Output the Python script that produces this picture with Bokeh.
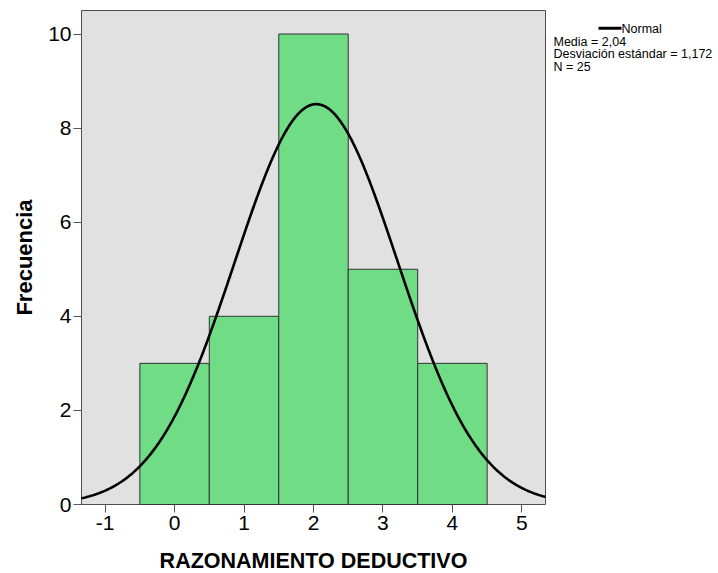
import math
from bokeh.plotting import figure
from bokeh.models import Range1d, FixedTicker, ColumnDataSource
from bokeh.core.properties import value
from bokeh.embed import file_html
from bokeh.resources import INLINE

# ---- data ----
categories = [0, 1, 2, 3, 4]
counts = [3, 4, 10, 5, 3]
x_ticks = [-1, 0, 1, 2, 3, 4, 5]
y_ticks = [0, 2, 4, 6, 8, 10]
mean_val = 2.04
sd_val = 1.172
n_val = 25
x_title = "RAZONAMIENTO DEDUCTIVO"
y_title = "Frecuencia"
legend_title = "Normal"
legend_lines = ["Media = 2,04", "Desviación estándar = 1,172", "N = 25"]

# plotted box (grey panel) in data units
x_lo, x_hi = -1.34, 5.34
y_lo, y_hi = 0, 10.5

# ---- layout (pixels) ----
W, H = 718, 573
BOX_L, BOX_R, BOX_T, BOX_B = 81, 545, 10, 504
FONT = "Liberation Sans"

ppx = (BOX_R - BOX_L) / (x_hi - x_lo)     # px per x unit
ppy = (BOX_B - BOX_T) / (y_hi - y_lo)     # px per y unit

def dx(px):
    return x_lo + (px - BOX_L) / ppx

def dy(py):
    return y_hi - (py - BOX_T) / ppy

p = figure(width=W, height=H, output_backend="svg", toolbar_location=None,
           x_range=Range1d(dx(0), dx(W)), y_range=Range1d(dy(H), dy(0)),
           min_border=0)
p.background_fill_color = "white"
p.border_fill_color = "white"
p.outline_line_color = None
p.grid.visible = False

# grey panel with frame
p.quad(left=[x_lo], right=[x_hi], bottom=[y_lo], top=[y_hi],
       fill_color="#E1E1E1", line_color="#4D4D4D", line_width=1)

src = ColumnDataSource(dict(x=categories, top=counts))
p.vbar(x="x", top="top", bottom=0, width=1.0, source=src,
       fill_color="#70DC85", line_color="#333333", line_width=1)

# fitted normal curve (scaled to counts, bin width 1)
steps = 400
xs = [x_lo + (x_hi - x_lo) * i / steps for i in range(steps + 1)]
ys = [n_val * 1.0 / (sd_val * math.sqrt(2 * math.pi)) *
      math.exp(-0.5 * ((x - mean_val) / sd_val) ** 2) for x in xs]
p.line(xs, ys, line_color="black", line_width=2.6)

for ax in (p.xaxis[0], p.yaxis[0]):
    ax.axis_line_color = None
    ax.major_tick_line_color = "#555555"
    ax.major_tick_out = 8
    ax.major_tick_in = 0
    ax.minor_tick_line_color = None
    ax.major_label_text_font = FONT
    ax.major_label_text_font_size = "21px"
    ax.major_label_text_color = "black"

p.xaxis.ticker = FixedTicker(ticks=x_ticks)
p.yaxis.ticker = FixedTicker(ticks=y_ticks)
p.xaxis.major_label_overrides = {t: str(t) for t in x_ticks}
p.xaxis.fixed_location = y_lo
p.yaxis.fixed_location = x_lo
p.xaxis.major_label_standoff = 3
p.yaxis.major_label_standoff = 2

# axis titles
p.text([(x_lo + x_hi) / 2], [dy(560)], text=[x_title], text_font=value(FONT),
       text_font_size="21.5px", text_font_style="bold", text_align="center",
       text_baseline="middle", text_color="black")
p.text([dx(23.5)], [(y_lo + y_hi) / 2], text=[y_title], text_font=value(FONT),
       text_font_size="22px", text_font_style="bold", text_align="center",
       text_baseline="middle", text_color="black", angle=math.pi / 2)

# legend block, right of the panel
p.line([dx(598), dx(621)], [dy(27.7), dy(27.7)], line_color="black", line_width=3)
p.text([dx(621)], [dy(28.5)], text=[legend_title], text_font=value(FONT),
       text_font_size="12.5px", text_baseline="middle", text_color="black")
p.text([dx(553)] * len(legend_lines),
       [dy(41.5 + 12.3 * i) for i in range(len(legend_lines))],
       text=legend_lines, text_font=value(FONT),
       text_font_size="12.5px", text_baseline="middle", text_color="black")

open("out.html", "w").write(file_html(p, INLINE))
